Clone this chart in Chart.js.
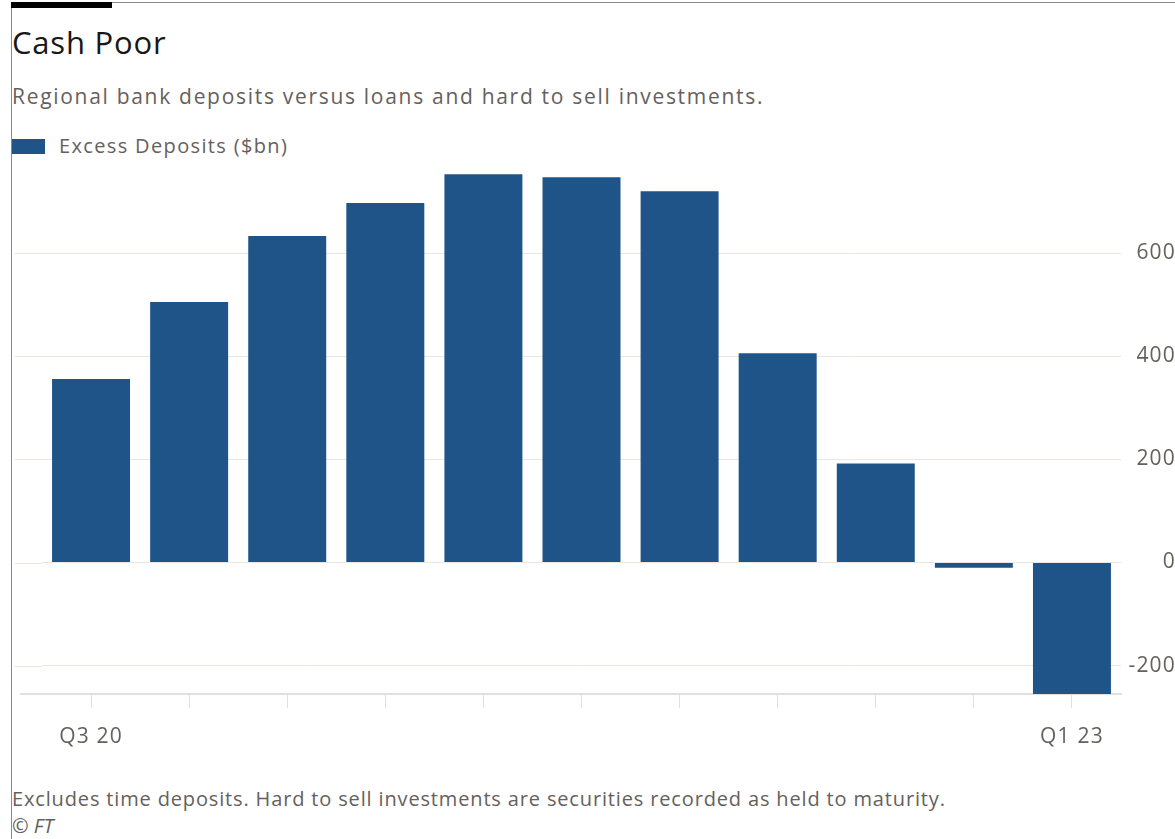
<!DOCTYPE html>
<html>
<head>
<meta charset="utf-8">
<script src="https://cdn.jsdelivr.net/npm/chart.js@4"></script>
<style>
  html, body { margin:0; padding:0; width:1175px; height:839px; overflow:hidden; background:#fff; }
  body { position:relative; font-family:"Open Sans","Noto Sans",sans-serif; }
  .frameTop { position:absolute; left:11px; top:2px; width:1164px; height:1px; background:#8a8a8a; }
  .frameLeft { position:absolute; left:11px; top:2px; width:1px; height:837px; background:#8a8a8a; }
  .blackbar { position:absolute; left:11px; top:2px; width:101px; height:6px; background:#000; }
  #title { position:absolute; left:12px; top:21px; font-size:31px; letter-spacing:0.8px; color:#1a1817; white-space:nowrap; }
  #subtitle { position:absolute; left:12px; top:82px; font-size:21px; letter-spacing:1.7px; color:#66605c; white-space:nowrap; }
  #legend { position:absolute; left:12px; top:132px; font-size:20px; letter-spacing:1.35px; color:#66605c; white-space:nowrap; }
  #legend .sw { display:inline-block; width:33px; height:15px; background:#1f5489; vertical-align:middle; margin-right:14px; position:relative; top:-1px; }
  #note { position:absolute; left:12px; top:785px; font-size:20px; letter-spacing:0.85px; color:#66605c; white-space:nowrap; }
  #src { position:absolute; left:12px; top:812px; font-size:20px; color:#66605c; font-style:italic; white-space:nowrap; }
  #wrap { position:absolute; left:0; top:148px; width:1176px; height:612px; }
</style>
</head>
<body>
<div class="frameTop"></div>
<div class="frameLeft"></div>
<div class="blackbar"></div>
<div id="title">Cash Poor</div>
<div id="subtitle">Regional bank deposits versus loans and hard to sell investments.</div>
<div id="legend"><span class="sw"></span>Excess Deposits ($bn)</div>
<div id="wrap"><canvas id="c" width="1176" height="612"></canvas></div>
<div id="note">Excludes time deposits. Hard to sell investments are securities recorded as held to maturity.</div>
<div id="src">© FT</div>
<script>
const quarters = ["Q3 20","Q4 20","Q1 21","Q2 21","Q3 21","Q4 21","Q1 22","Q2 22","Q3 22","Q4 22","Q1 23"];
const excessDeposits = [356, 505, 633, 697, 753, 747, 720, 406, 192, -10, -255];
const shownTickLabels = ["Q3 20","Q1 23"];
const yTickValues = [-200, 0, 200, 400, 600];

const gridColor = '#ebe6e2';
const textColor = '#66605c';
const fontFamily = '"Open Sans","Noto Sans",sans-serif';

const spacing = {
  id: 'spacing',
  beforeInit(chart) { chart.ctx.letterSpacing = '1.2px'; },
  beforeDraw(chart) { chart.ctx.letterSpacing = '1.2px'; }
};

const extendGrid = {
  id: 'extendGrid',
  beforeDatasetsDraw(chart) {
    const ctx = chart.ctx, y = chart.scales.y, area = chart.chartArea;
    ctx.save();
    ctx.strokeStyle = gridColor;
    ctx.lineWidth = 1;
    y.ticks.forEach(t => {
      const py = Math.round(y.getPixelForValue(t.value)) + 0.5;
      ctx.beginPath();
      ctx.moveTo(15, py);
      ctx.lineTo(area.left, py);
      ctx.stroke();
    });
    ctx.strokeStyle = '#e4dfda';
    ctx.lineWidth = 2;
    ctx.beginPath();
    ctx.moveTo(20, area.bottom);
    ctx.lineTo(area.left, area.bottom);
    ctx.stroke();
    ctx.restore();
  }
};

new Chart(document.getElementById('c'), {
  type: 'bar',
  data: {
    labels: quarters,
    datasets: [{
      label: 'Excess Deposits ($bn)',
      data: excessDeposits,
      backgroundColor: '#1f5489',
      borderWidth: 0,
      barPercentage: 0.795,
      categoryPercentage: 1.0
    }]
  },
  options: {
    responsive: false,
    animation: false,
    layout: { padding: { top: 9, left: 42, right: 0, bottom: 0 } },
    plugins: { legend: { display: false }, tooltip: { enabled: false } },
    scales: {
      x: {
        offset: true,
        grid: { display: true, drawOnChartArea: false, drawTicks: true, tickLength: 14, color: '#e4dfda', offset: false },
        border: { display: true, color: '#e4dfda', width: 2 },
        ticks: {
          autoSkip: false, maxRotation: 0, padding: 16,
          color: textColor, font: { family: fontFamily, size: 21 },
          callback: function(v, i) { const l = quarters[i]; return shownTickLabels.includes(l) ? l : ''; }
        },
        afterFit: a => { a.height = 66; }
      },
      y: {
        position: 'right',
        min: -255, max: 760,
        grid: { color: gridColor, drawTicks: false },
        border: { display: false },
        afterBuildTicks: a => { a.ticks = yTickValues.map(v => ({ value: v })); },
        ticks: { crossAlign: 'far', padding: 10, color: textColor, font: { family: fontFamily, size: 21 } },
        afterFit: a => { a.width = 55; }
      }
    }
  },
  plugins: [spacing, extendGrid]
});
</script>
</body>
</html>
